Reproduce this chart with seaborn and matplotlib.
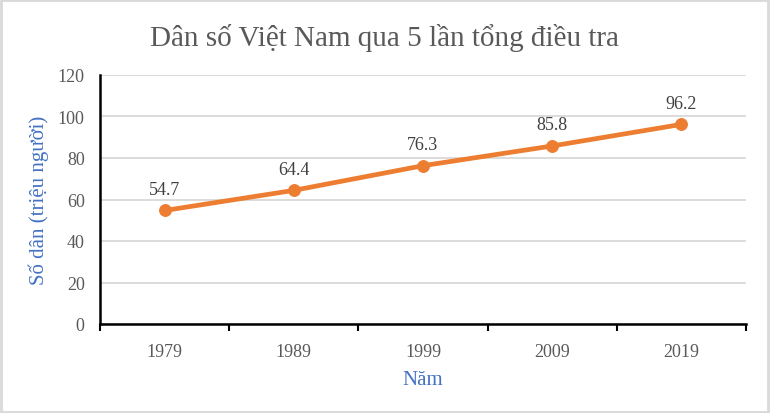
import matplotlib
matplotlib.use("Agg")
import matplotlib.pyplot as plt
import seaborn as sns
import pandas as pd
import numpy as np

years = ["1979", "1989", "1999", "2009", "2019"]
population = [54.7, 64.4, 76.3, 85.8, 96.2]
y_ticks = [0, 20, 40, 60, 80, 100, 120]

title = "Dân số Việt Nam qua 5 lần tổng điều tra"
xlabel = "Năm"
ylabel = "Số dân (triệu người)"

sns.set_theme(style="white")
plt.rcParams['font.family'] = ['Liberation Serif', 'DejaVu Serif']

df = pd.DataFrame({"pos": np.arange(len(years)), "year": years, "pop": population})

fig = plt.figure(figsize=(7.7, 4.14), dpi=100)
ax = fig.add_axes([100/770, 89/414, 646/770, 249/414])

sns.lineplot(data=df, x="pos", y="pop", ax=ax, color="#ED7D31", linewidth=3.4,
             marker="o", markersize=8.5, markeredgecolor="#ED7D31", zorder=3)

for xi, v in zip(df["pos"], df["pop"]):
    ax.annotate(f"{v}", (xi, v), xytext=(0, 12), textcoords="offset points",
                ha="center", va="baseline", fontsize=13, color="#404040")

ax.set_xlim(-0.5, len(years) - 0.5)
ax.set_ylim(0, 120)
ax.set_yticks(y_ticks)
ax.set_yticklabels([str(t) for t in y_ticks])
ax.set_xticks(np.arange(len(years)))
ax.set_xticklabels(years)
ax.set_xticks(np.arange(-0.5, len(years), 1.0), minor=True)

ax.grid(axis="y", color="#D9D9D9", linewidth=1.3)
ax.set_axisbelow(True)
for s in ["top", "right"]:
    ax.spines[s].set_visible(False)
for s in ["left", "bottom"]:
    ax.spines[s].set_color("black")
    ax.spines[s].set_linewidth(1.8)

ax.tick_params(axis="both", which="both", direction="out", color="black", width=1.5)
ax.tick_params(axis="y", which="major", length=5, labelsize=13, labelcolor="#595959", pad=6)
ax.tick_params(axis="x", which="major", length=5, labelsize=13, labelcolor="#595959", pad=9)
ax.tick_params(axis="x", which="minor", length=5, bottom=True)

ax.set_xlabel(xlabel, fontsize=15, color="#4472C4", labelpad=7)
ax.set_ylabel(ylabel, fontsize=15, color="#4472C4", labelpad=6)

fig.text(0.5, 1 - 38/414, title, ha="center", va="center", fontsize=21, color="#595959")

border = plt.Rectangle((0.001, 0.002), 0.997, 0.995, transform=fig.transFigure,
                       fill=False, edgecolor="#D9D9D9", linewidth=2)
fig.patches.append(border)

fig.savefig("out.png", dpi=100, facecolor="white")
